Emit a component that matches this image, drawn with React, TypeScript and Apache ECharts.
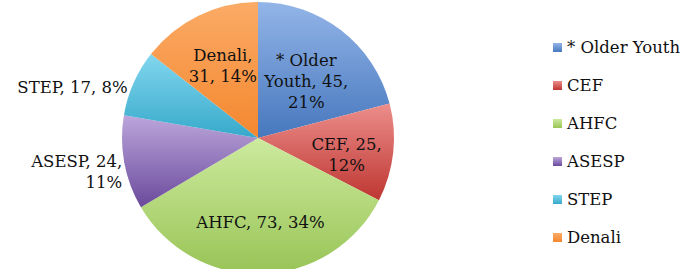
import React, { useEffect, useRef } from "react";
import * as echarts from "echarts";

const categories = ["* Older Youth", "CEF", "AHFC", "ASESP", "STEP", "Denali"];
const values = [45, 25, 73, 24, 17, 31];
const percents = [21, 12, 34, 11, 8, 14];

// styles
const topColors = ["#93B5E8", "#EC8E8B", "#CDEA9E", "#BCA6DB", "#82D6EE", "#FBAB66"];
const bottomColors = ["#4677BD", "#BE3632", "#98C456", "#6A4A9C", "#36A9CB", "#F4872F"];
// label placement: radial factor, dx, dy, align
const labelPlace = [
  { k: 0.545, dx: 3, dy: 2, align: "center" },
  { k: 0.655, dx: 0, dy: 7, align: "center" },
  { k: 0.62, dx: 0, dy: 0, align: "center" },
  { k: 1.0, dx: -2, dy: 9, align: "right" },
  { k: 1.0, dx: -6, dy: 5, align: "right" },
  { k: 0.59, dx: 0, dy: 0, align: "center" },
];
const CX = 258;
const CY = 138;
const R = 136;

function labelText(i: number): string {
  const n = categories[i];
  const v = values[i];
  const p = percents[i] + "%";
  switch (i) {
    case 0:
      return "* Older\nYouth, " + v + ",\n" + p;
    case 1:
      return n + ", " + v + ",\n" + p;
    case 3:
      return n + ", " + v + ",\n" + p;
    case 5:
      return n + ",\n" + v + ", " + p;
    default:
      return n + ", " + v + ", " + p;
  }
}

export default function App() {
  const ref = useRef<HTMLDivElement>(null);
  useEffect(() => {
    document.body.style.margin = "0";
    if (!ref.current) return;
    const chart = echarts.init(ref.current, undefined, { renderer: "svg" });
    const total = values.reduce((a, b) => a + b, 0);
    const font = "'DejaVu Serif', serif";
    chart.setOption({
      animation: false,
      backgroundColor: "#ffffff",
      legend: {
        orient: "vertical",
        left: 548,
        top: 34,
        icon: "rect",
        itemWidth: 9,
        itemHeight: 9,
        itemGap: 21,
        data: categories,
        textStyle: {
          fontFamily: font,
          fontSize: 16.5,
          color: "#111",
          lineHeight: 16,
          padding: [0, 0, 0, 0],
        },
      },
      series: [
        {
          type: "pie",
          center: [CX, CY],
          radius: R,
          startAngle: 90,
          clockwise: true,
          avoidLabelOverlap: false,
          labelLine: { show: false },
          label: {
            show: true,
            position: "inside",
            fontFamily: font,
            fontSize: 16.5,
            lineHeight: 21,
            color: "#111",
            formatter: (p: any) => labelText(p.dataIndex),
          },
          labelLayout: (params: any) => {
            const i = params.dataIndex;
            let cum = 0;
            for (let j = 0; j < i; j++) cum += values[j];
            const mid = (90 - ((cum + values[i] / 2) / total) * 360) * (Math.PI / 180);
            const pl = labelPlace[i];
            return {
              x: CX + pl.k * R * Math.cos(mid) + pl.dx,
              y: CY - pl.k * R * Math.sin(mid) + pl.dy,
              align: pl.align,
              verticalAlign: "middle",
            };
          },
          emphasis: { disabled: true },
          data: categories.map((c, i) => ({
            name: c,
            value: values[i],
            itemStyle: {
              color: new echarts.graphic.LinearGradient(0, 0, 0, 1, [
                { offset: 0, color: topColors[i] },
                { offset: 1, color: bottomColors[i] },
              ]),
            },
          })),
        },
      ],
    });
    return () => chart.dispose();
  }, []);
  return <div ref={ref} style={{ width: 695, height: 269 }} />;
}
